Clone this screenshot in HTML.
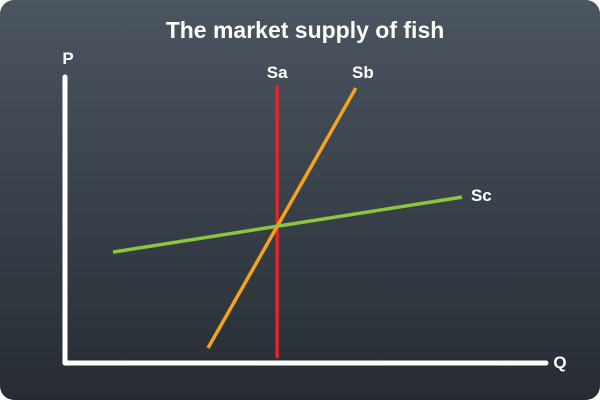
<!DOCTYPE html>
<html><head><meta charset="utf-8"><style>
html,body{margin:0;padding:0;background:#fff;}
#card{position:relative;width:600px;height:400px;border-radius:14px;overflow:hidden;background:linear-gradient(#4b5561,#272c33);}
svg{position:absolute;left:0;top:0;}
text{font-family:"Liberation Sans",sans-serif;font-weight:bold;fill:#fff;}
</style></head><body>
<div id="card">
<svg id="chart" width="600" height="400">
<text x="305" y="38" font-size="23" text-anchor="middle">The market supply of fish</text>
<line x1="65" y1="77" x2="65" y2="363" stroke="#fff" stroke-width="5" stroke-linecap="round"/>
<line x1="65" y1="363" x2="546" y2="363" stroke="#fff" stroke-width="5" stroke-linecap="round"/>
<text x="68" y="64" font-size="17" text-anchor="middle">P</text>
<text x="560" y="368" font-size="17" text-anchor="middle">Q</text>
</svg>
</div>
<script>
const seriesNames=['Sa','Sb','Sc'];
const seriesColors=['#e0262b','#f7a21b','#8cc63f'];
const startQ=[44.2,29.8,10];
const startP=[1.7,5.2,38.5];
const endQ=[44.2,60.6,82.7];
const endP=[96.5,95.5,57.6];
const sx=q=>65+q/100*480;
const sy=p=>363-p/100*288;
const svg=document.getElementById('chart');
const NS='http://www.w3.org/2000/svg';
const labelOff=[[0,-13],[7,-16],[9,-2]];
seriesNames.forEach((n,i)=>{
  const l=document.createElementNS(NS,'line');
  l.setAttribute('x1',sx(startQ[i]));l.setAttribute('y1',sy(startP[i]));
  l.setAttribute('x2',sx(endQ[i]));l.setAttribute('y2',sy(endP[i]));
  l.setAttribute('stroke',seriesColors[i]);l.setAttribute('stroke-width','3.5');
  
  
  svg.appendChild(l);
  const t=document.createElementNS(NS,'text');
  t.setAttribute('x',sx(endQ[i])+labelOff[i][0]);t.setAttribute('y',sy(endP[i])+labelOff[i][1]+6);
  t.setAttribute('font-size','17');
  t.setAttribute('text-anchor',i==2?'start':'middle');
  t.textContent=n;
  
  
  svg.appendChild(t);
});
</script>
</body></html>
